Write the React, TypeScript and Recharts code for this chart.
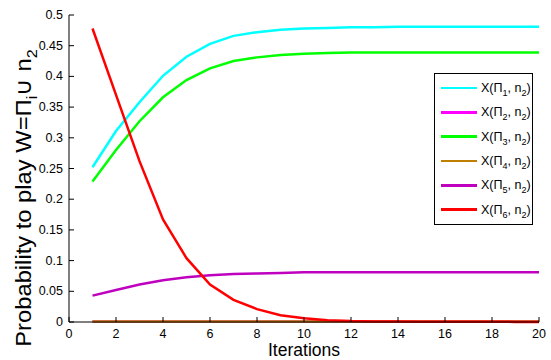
import { LineChart, Line, XAxis, YAxis, Legend } from 'recharts';

const FONT = '"Liberation Sans", Arial, Helvetica, sans-serif';

// iteration number on the x axis
const iterations = [1, 2, 3, 4, 5, 6, 7, 8, 9, 10, 11, 12, 13, 14, 15, 16, 17, 18, 19, 20];

// probability of each strategy per iteration
const pi1 = [0.252, 0.311, 0.358, 0.401, 0.432, 0.453, 0.466, 0.472, 0.476, 0.478, 0.479, 0.48, 0.48, 0.481, 0.481, 0.481, 0.481, 0.481, 0.481, 0.481];
const pi2 = [0.001, 0.001, 0.001, 0.001, 0.001, 0.001, 0.001, 0.001, 0.001, 0.001, 0.001, 0.001, 0.001, 0.001, 0.001, 0.001, 0.001, 0.001, 0.001, 0.001];
const pi3 = [0.229, 0.28, 0.327, 0.366, 0.394, 0.413, 0.425, 0.431, 0.435, 0.437, 0.438, 0.439, 0.439, 0.439, 0.439, 0.439, 0.439, 0.439, 0.439, 0.439];
const pi4 = [0.001, 0.001, 0.001, 0.001, 0.001, 0.001, 0.001, 0.001, 0.001, 0.001, 0.001, 0.001, 0.001, 0.001, 0.001, 0.001, 0.001, 0.001, 0.001, 0.001];
const pi5 = [0.043, 0.052, 0.061, 0.068, 0.073, 0.076, 0.078, 0.079, 0.08, 0.081, 0.081, 0.081, 0.081, 0.081, 0.081, 0.081, 0.081, 0.081, 0.081, 0.081];
const pi6 = [0.478, 0.37, 0.262, 0.167, 0.104, 0.061, 0.036, 0.021, 0.011, 0.006, 0.003, 0.0015, 0.001, 0.0007, 0.0005, 0.0004, 0.0003, 0.0003, 0.0002, 0.0002];

const xTicks = [0, 2, 4, 6, 8, 10, 12, 14, 16, 18, 20];
const yTicks = [0, 0.05, 0.1, 0.15, 0.2, 0.25, 0.3, 0.35, 0.4, 0.45, 0.5];

const series = [
  { key: 'p1', sub: '1', color: '#00ffff', values: pi1 },
  { key: 'p2', sub: '2', color: '#ff00ff', values: pi2 },
  { key: 'p3', sub: '3', color: '#00ff00', values: pi3 },
  { key: 'p4', sub: '4', color: '#bf8000', values: pi4 },
  { key: 'p5', sub: '5', color: '#bf00bf', values: pi5 },
  { key: 'p6', sub: '6', color: '#ff0000', values: pi6 },
];

const data = iterations.map((it, i) => {
  const row: any = { it };
  series.forEach((s) => (row[s.key] = s.values[i]));
  return row;
});

const XTick = (props: any) => {
  const { x, y, payload } = props;
  return (
    <g>
      <line x1={x} y1={y} x2={x} y2={y - 5} stroke="#000" />
      <text x={x} y={y + 16} textAnchor="middle" fontSize={12.5} fontFamily={FONT} fill="#000">
        {payload.value}
      </text>
    </g>
  );
};

const YTick = (props: any) => {
  const { x, y, payload } = props;
  return (
    <g>
      <line x1={x} y1={y} x2={x + 5} y2={y} stroke="#000" />
      <text x={x - 6} y={y + 4} textAnchor="end" fontSize={12.5} fontFamily={FONT} fill="#000">
        {payload.value}
      </text>
    </g>
  );
};

const YLabel = () => (
  <text transform="translate(31,198) rotate(-90) scale(1.08,1)" textAnchor="middle" fontSize={22} fontFamily={FONT} fill="#000">
    Probability to play W=Π
    <tspan dy={6} fontSize={15}>i</tspan>
    <tspan dy={-6}>∪ n</tspan>
    <tspan dy={6} fontSize={15}>2</tspan>
  </text>
);

const XLabel = () => (
  <text x={304} y={356} textAnchor="middle" fontSize={17.5} fontFamily={FONT} fill="#000">
    Iterations
  </text>
);

const LegendBox = () => (
  <div style={{ border: '1px solid #000', background: '#fff', width: 97, padding: '2px 0', fontFamily: FONT, fontSize: 12.5, color: '#000' }}>
    {series.map((s) => (
      <div key={s.key} style={{ display: 'flex', alignItems: 'center', height: 24.3 }}>
        <span style={{ display: 'inline-block', width: 36, height: 2.5, background: s.color, marginLeft: 6, marginRight: 4 }} />
        <span style={{ whiteSpace: 'nowrap' }}>
          X(Π<sub style={{ fontSize: 9, lineHeight: 0 }}>{s.sub}</sub>, n<sub style={{ fontSize: 9, lineHeight: 0 }}>2</sub>)
        </span>
      </div>
    ))}
  </div>
);

export default function App() {
  return (
    <div style={{ position: 'absolute', left: 0, top: 0, width: 551, height: 360, background: '#fff' }}>
      <LineChart width={551} height={360} data={data} margin={{ top: 15, right: 12, bottom: 0, left: 0 }}>
        <XAxis
          dataKey="it"
          type="number"
          domain={[0, 20]}
          ticks={xTicks}
          interval={0}
          height={38}
          tickSize={0}
          tickMargin={0}
          tickLine={false}
          tick={<XTick />}
          axisLine={{ stroke: '#000' }}
          label={<XLabel />}
        />
        <YAxis
          type="number"
          domain={[0, 0.5]}
          ticks={yTicks}
          interval={0}
          width={69}
          tickSize={0}
          tickMargin={0}
          tickLine={false}
          tick={<YTick />}
          axisLine={{ stroke: '#000' }}
          label={<YLabel />}
        />
        <Legend
          layout="vertical"
          align="center"
          verticalAlign="middle"
          content={<LegendBox />}
          wrapperStyle={{ left: 434, top: 73, width: 99 }}
        />
        {series.map((s) => (
          <Line
            key={s.key}
            type="linear"
            dataKey={s.key}
            stroke={s.color}
            strokeWidth={2.5}
            dot={false}
            isAnimationActive={false}
          />
        ))}
      </LineChart>
    </div>
  );
}
